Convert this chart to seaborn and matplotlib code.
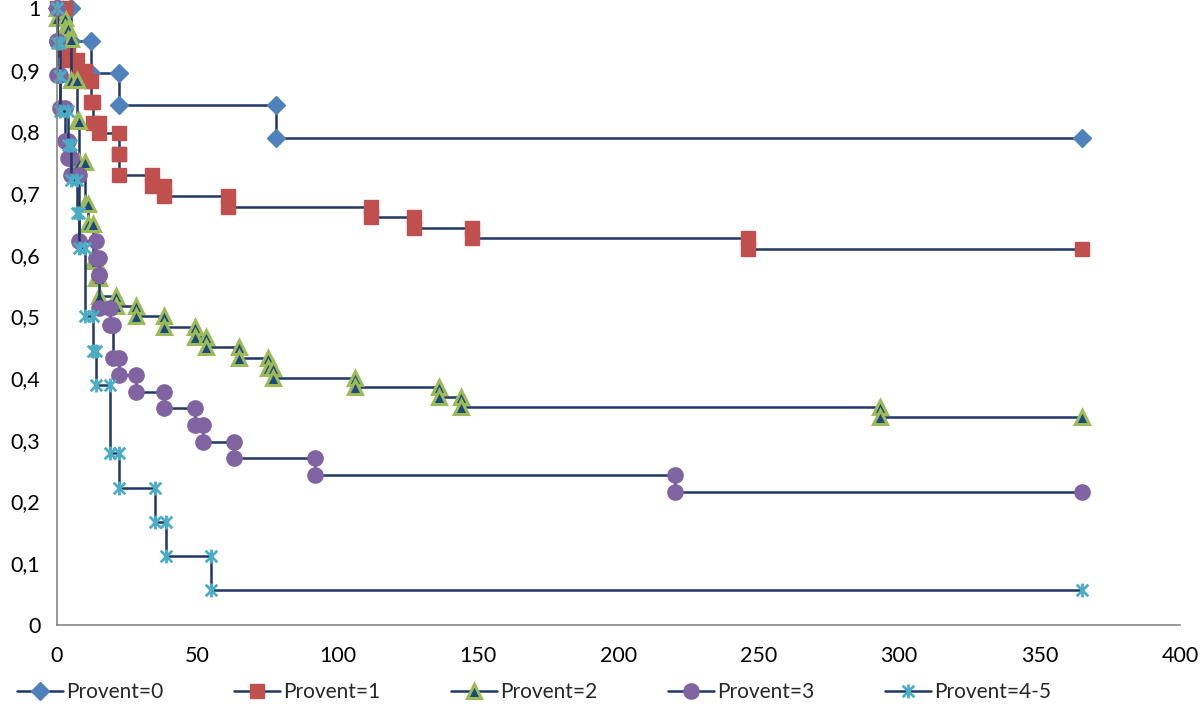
import numpy as np
import pandas as pd
import matplotlib
matplotlib.use("Agg")
import matplotlib.pyplot as plt
from matplotlib.path import Path
import seaborn as sns

# Kaplan-Meier style step data (event day, survival after event)
end_day = 365
p0_t = [5, 12, 22, 78]
p0_s = [0.947, 0.895, 0.842, 0.789]

p1_t = [3, 4, 7, 10, 12, 13, 15, 22, 22, 34, 38, 61, 112, 127, 148, 246]
p1_s = [0.932, 0.915, 0.898, 0.881, 0.847, 0.814, 0.797, 0.763, 0.729,
        0.712, 0.695, 0.678, 0.661, 0.644, 0.627, 0.610]

p2_t = [0, 3, 4, 5, 7, 8, 10, 11, 13, 14, 15, 21, 28, 38, 49, 53, 65, 75, 77,
        106, 136, 144, 293]
p2_s = [0.983, 0.967, 0.950, 0.883, 0.817, 0.750, 0.683, 0.650, 0.590, 0.562,
        0.533, 0.517, 0.500, 0.483, 0.467, 0.450, 0.433, 0.417, 0.400,
        0.385, 0.369, 0.353, 0.337]

p3_t = [0, 0, 1, 3, 4, 5, 8, 14, 15, 15, 19, 20, 22, 28, 38, 49, 52, 63, 92, 220]
p3_s = [0.946, 0.892, 0.838, 0.784, 0.757, 0.730, 0.622, 0.595, 0.568, 0.514,
        0.486, 0.432, 0.405, 0.378, 0.351, 0.324, 0.297, 0.270, 0.243, 0.216]

p45_t = [0, 1, 1, 4, 5, 7, 8, 10, 13, 14, 19, 22, 35, 39, 55]
p45_s = [0.944, 0.889, 0.833, 0.778, 0.722, 0.667, 0.611, 0.500, 0.444,
         0.389, 0.278, 0.222, 0.167, 0.111, 0.056]

groups = ["Provent=0", "Provent=1", "Provent=2", "Provent=3", "Provent=4-5"]
x_ticks = [0, 50, 100, 150, 200, 250, 300, 350, 400]
y_ticks = [0, 0.1, 0.2, 0.3, 0.4, 0.5, 0.6, 0.7, 0.8, 0.9, 1]
y_labels = ["0", "0,1", "0,2", "0,3", "0,4", "0,5", "0,6", "0,7", "0,8", "0,9", "1"]


def step_points(times, surv):
    xs, ys = [0], [1.0]
    prev = 1.0
    for t, s in zip(times, surv):
        xs += [t, t]
        ys += [prev, s]
        prev = s
    xs.append(end_day)
    ys.append(prev)
    return xs, ys


frames = []
for name, t, s in zip(groups, [p0_t, p1_t, p2_t, p3_t, p45_t], [p0_s, p1_s, p2_s, p3_s, p45_s]):
    xs, ys = step_points(t, s)
    frames.append(pd.DataFrame({"day": xs, "surv": ys, "group": name}))
df = pd.concat(frames, ignore_index=True)

# Excel-like star marker: X plus vertical bar
star = Path([(-1, -1), (1, 1), (-1, 1), (1, -1), (0, -1.2), (0, 1.2)],
            [Path.MOVETO, Path.LINETO, Path.MOVETO, Path.LINETO, Path.MOVETO, Path.LINETO])

navy = "#1F3864"
styles = {
    "Provent=0": dict(marker="D", markersize=9, markerfacecolor="#4F81BD", markeredgecolor="#4F81BD", markeredgewidth=1),
    "Provent=1": dict(marker="s", markersize=10, markerfacecolor="#C0504D", markeredgecolor="#C0504D", markeredgewidth=1),
    "Provent=2": dict(marker="^", markersize=10, markerfacecolor="#1F497D", markeredgecolor="#9BBB59", markeredgewidth=2.2),
    "Provent=3": dict(marker="o", markersize=11, markerfacecolor="#8064A2", markeredgecolor="#8064A2", markeredgewidth=1),
    "Provent=4-5": dict(marker=star, markersize=10, markerfacecolor="none", markeredgecolor="#4BACC6", markeredgewidth=2),
}

sns.set_style("white")
plt.rcParams["font.family"] = ["Lato", "DejaVu Sans"]

fig = plt.figure(figsize=(12, 7.14), dpi=100)
ax = fig.add_axes([0.0475, 0.1247, 0.9358, 0.8641])

for name in groups:
    sub = df[df["group"] == name]
    sns.lineplot(data=sub, x="day", y="surv", sort=False, estimator=None, ax=ax,
                 color=navy, linewidth=1.8, label=name, clip_on=False, **styles[name])

ax.set_xlim(0, 400)
ax.set_ylim(0, 1)
ax.set_xticks(x_ticks)
ax.set_yticks(y_ticks)
ax.set_yticklabels(y_labels)
ax.set_xlabel("")
ax.set_ylabel("")
for side in ["top", "right"]:
    ax.spines[side].set_visible(False)
for side in ["left", "bottom"]:
    ax.spines[side].set_color("#868686")
    ax.spines[side].set_linewidth(1.2)
ax.tick_params(axis="both", direction="out", length=6, width=1.2, color="#868686",
               labelsize=15.5, labelcolor="black")
ax.tick_params(axis="x", pad=9)
ax.tick_params(axis="y", pad=6)

ax.legend(loc="upper center", bbox_to_anchor=(0.425, -0.062), ncol=5, frameon=False,
          fontsize=15, handlelength=2.2, columnspacing=3.4, handletextpad=0.15)

plt.savefig("out.png", dpi=100)
